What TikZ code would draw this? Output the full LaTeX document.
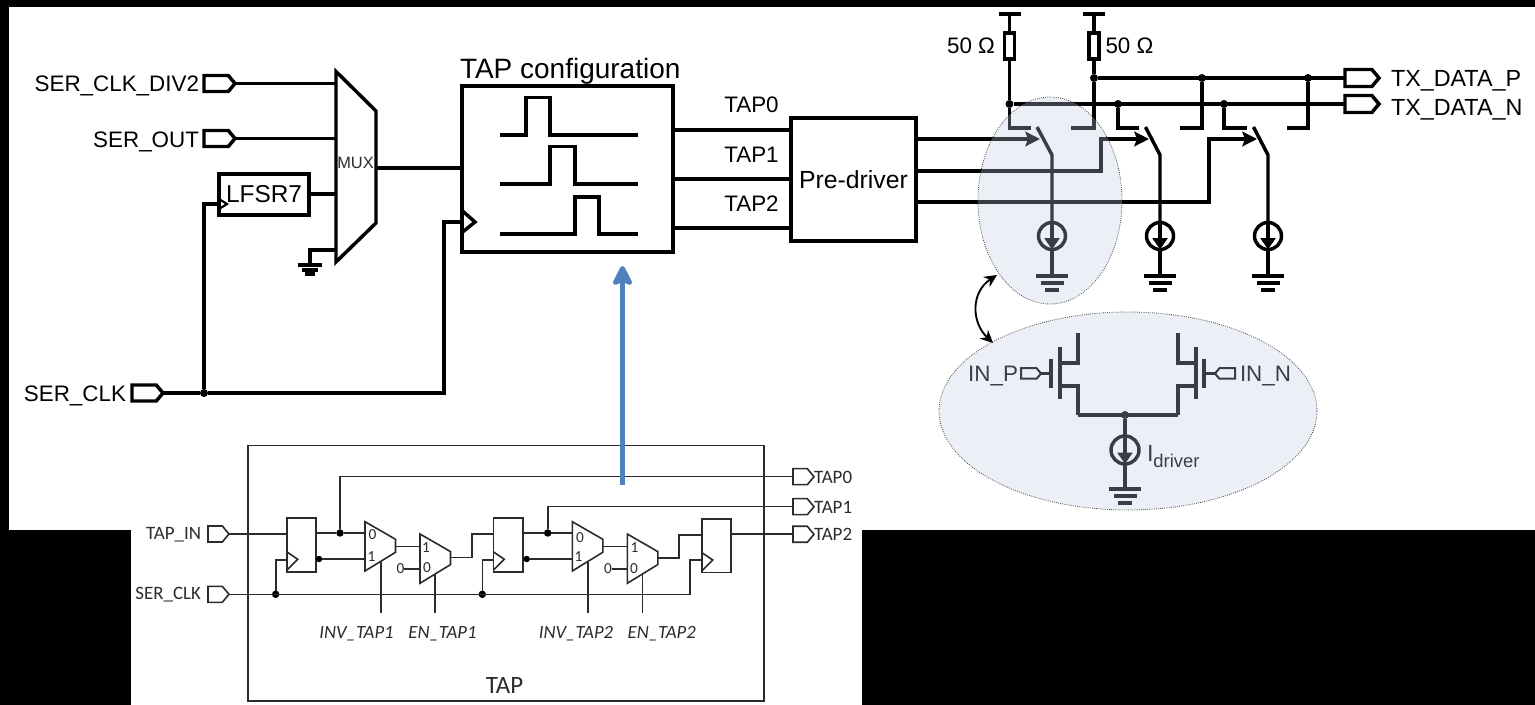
\documentclass[tikz,border=0pt]{standalone}
\usepackage{fontspec}
\setmainfont{Liberation Sans}
\newfontfamily\calfont{Carlito}
\usetikzlibrary{shapes.symbols,shapes.geometric,arrows.meta,calc}
\newcommand\px{0.75pt}
\definecolor{inkgray}{HTML}{2B2B2B}
\definecolor{veil}{rgb}{0.765,0.804,0.89}
\definecolor{bluearrow}{HTML}{4F81BD}
\tikzset{
  wire/.style={line width=2.6pt,line join=miter,color=black},
  thinwire/.style={line width=1.2pt,color=inkgray},
  mbox/.style={draw,wire,fill=white,rectangle,inner sep=0pt,outer sep=0pt,anchor=north west},
  sbox/.style={draw,thinwire,rectangle,inner sep=0pt,outer sep=0pt,anchor=north west},
  lab/.style={inner sep=0pt,outer sep=0pt,text=black,font=\fontsize{16.8pt}{18pt}\selectfont},
  txlab/.style={inner sep=0pt,outer sep=0pt,text=black,font=\fontsize{17.5pt}{19pt}\selectfont},
  slab/.style={inner sep=0pt,outer sep=0pt,text=inkgray,font=\calfont\fontsize{14.2pt}{16pt}\selectfont},
  ilab/.style={slab,font=\calfont\itshape\fontsize{14pt}{16pt}\selectfont},
  muxlab/.style={inner sep=0pt,outer sep=0pt,text=inkgray,font=\calfont\fontsize{11.5pt}{13pt}\selectfont},
  bigport/.style={draw,wire,signal,signal to=east,signal pointer angle=100,minimum width=31*\px,minimum height=16*\px,inner sep=0pt,outer sep=0pt},
  smallport/.style={draw,thinwire,signal,signal to=east,signal pointer angle=100,minimum width=21*\px,minimum height=16*\px,inner sep=0pt,outer sep=0pt},
  dot/.style={circle,fill=black,inner sep=0pt,outer sep=0pt,minimum size=8*\px},
  isrc/.style={draw,wire,circle,inner sep=0pt,outer sep=0pt,minimum size=27*\px},
  veiled/.style={ellipse,draw=black!75,densely dotted,line width=0.6pt,fill=veil,fill opacity=0.3,draw opacity=1,inner sep=0pt,outer sep=0pt},
  gndpic/.pic={
    \draw[wire] (-16,0) -- (16,0);
    \draw[wire] (-11.5,7) -- (11.5,7);
    \draw[wire] (-7,14) -- (7,14);
  },
  smallgnd/.pic={
    \draw[wire] (-12,0) -- (12,0);
    \draw[wire] (-8,5) -- (8,5);
    \draw[wire] (-5,9) -- (5,9);
  },
}
\newcommand\drvleg[7]{% name, n junction, p junction, left contact x, right contact x, arm top x, arm bottom x
  \coordinate (#1cl) at (#4,128);
  \coordinate (#1cr) at (#5,128);
  \draw[wire] (#2) |- (#1cl);
  \draw[wire] (#3) |- (#1cr);
  \coordinate (#1a) at (#6,127);
  \coordinate (#1b) at (#7,155);
  \node[isrc] (#1s) at (#7,236) {};
  \coordinate (#1g) at (#7,276);
  \draw[wire] (#1a) -- (#1b) -- (#1s.north);
  \draw[wire,-{Triangle[length=8.5pt,width=11pt]}] (#1s.north) -- (#1s.south);
  \draw[wire] (#1s.south) -- (#1g);
  \pic at (#1g) {gndpic};
}
% flip-flop: name, left x, top y
\newcommand\flop[3]{%
  \node[sbox,minimum width=29.5*\px,minimum height=53.5*\px] (#1) at (#2,#3) {};
  \coordinate (#1d) at (#2,#3+15.5);
  \coordinate (#1ck) at (#2,#3+41.5);
  \draw[thinwire] (#2,#3+33.5) -- (#2+11,#3+41) -- (#2,#3+52);
}
% mux: name, left x, top y
\newcommand\smux[3]{%
  \coordinate (#1i) at (#2,#3);
  \coordinate (#1o) at (#2+30.5,#3+25);
  \draw[thinwire] (#2,#3) -- (#2+30.5,#3+17.6) -- (#2+30.5,#3+30.6) -- (#2,#3+49.3) -- cycle;
}
\begin{document}
\begin{tikzpicture}[x=0.75pt,y=-0.75pt]
\useasboundingbox (0,0) rectangle (1535,705);
% backgrounds
\fill[black] (0,0) rectangle (1535,705);
\fill[white] (9,7.5) rectangle (1535,530);
\fill[white] (131,530) rectangle (862,705);

% ---------- top-left inputs
\node[bigport,anchor=west] (pdiv) at (204,83.5) {};
\node[bigport,anchor=west] (pout) at (204,138.5) {};
\node[bigport,anchor=west] (pclk) at (132,393) {};
\node[lab,anchor=east] (tdiv) at (199,86) {SER\_CLK\_DIV2};
\node[lab,anchor=east] (tout) at (199,142) {SER\_OUT};
\node[lab,anchor=east] (tclk) at (126,395.5) {SER\_CLK};

% mux
\coordinate (ma) at (336,71.5);
\coordinate (mb) at (376,111);
\coordinate (mc) at (376,223);
\coordinate (md) at (336,262);
\draw[wire] (ma) -- (mb) -- (mc) -- (md) -- cycle;
\node[inner sep=0pt,text=inkgray,font=\fontsize{12.3pt}{14pt}\selectfont] (mtxt) at (355.5,163) {MUX};
\coordinate (mi1) at (336,83.5);
\coordinate (mi2) at (336,138.5);
\coordinate (mi3) at (336,194);
\coordinate (mi4) at (336,250);
\coordinate (mo) at (376,168);
\draw[wire] (pdiv.east) -- (mi1);
\draw[wire] (pout.east) -- (mi2);

% LFSR7
\node[mbox,minimum width=90*\px,minimum height=41*\px,font=\fontsize{18.3pt}{20pt}\selectfont] (lfsr) at (219,174) {LFSR7};
\draw[wire] (lfsr.east |- mi3) -- (mi3);
\coordinate (lclk) at (219,204);
\draw[line width=1.6pt] ($(lclk)+(0,-5)$) -- ($(lclk)+(8,0)$) -- ($(lclk)+(0,5)$);
% mux ground
\coordinate (mg) at (310,265);
\draw[wire] (mi4) -| (mg);
\pic at (mg) {smallgnd};

% TAP configuration box
\node[mbox,minimum width=211*\px,minimum height=166*\px] (cfg) at (462,86) {};
\node[lab,anchor=west,font=\fontsize{21pt}{23pt}\selectfont] (cfgt) at (460,71) {TAP configuration};
\draw[wire] (mo) -- (mo -| cfg.west);
\coordinate (cclk) at (462,222);
\draw[wire] (462,210.5) -- (475,222) -- (462,232.5);
% clock tree
\node[dot] (jclk) at (204,393) {};
\draw[wire] (pclk.east) -- (jclk);
\draw[wire] (jclk) |- (lclk);
\coordinate (cbend) at (444,393);
\draw[wire] (jclk) -- (cbend) |- (cclk);
% pulses
\draw[wire] (500,135) -- (526,135) -- (526,97.5) -- (550,97.5) -- (550,135) -- (638,135);
\draw[wire] (500,184) -- (550,184) -- (550,146.5) -- (575,146.5) -- (575,184) -- (638,184);
\draw[wire] (500,234) -- (575,234) -- (575,197) -- (599,197) -- (599,234) -- (638,234);

% pre-driver
\node[mbox,minimum width=125*\px,minimum height=123*\px,font=\fontsize{18.6pt}{20pt}\selectfont] (pd) at (791,118) {Pre-driver};
\coordinate (t0) at (673,130);
\coordinate (t1) at (673,179);
\coordinate (t2) at (673,228);
\draw[wire] (t0) -- (t0 -| pd.west);
\draw[wire] (t1) -- (t1 -| pd.west);
\draw[wire] (t2) -- (t2 -| pd.west);
\node[lab] (lt0) at (751.5,105) {TAP0};
\node[lab] (lt1) at (751.5,155) {TAP1};
\node[lab] (lt2) at (751.5,204) {TAP2};

% ---------- driver
\coordinate (vl) at (1009.5,14);
\coordinate (vr) at (1094,14);
\draw[wire] ($(vl)+(-11,0)$) -- ($(vl)+(11,0)$);
\draw[wire] ($(vr)+(-11,0)$) -- ($(vr)+(11,0)$);
\node[mbox,anchor=center,minimum width=10*\px,minimum height=26*\px] (rl) at (1009.5,46) {};
\node[mbox,anchor=center,minimum width=10*\px,minimum height=26*\px] (rr) at (1094,46) {};
\node[dot] (jn0) at (1009.5,104) {};
\node[dot] (jp0) at (1094,78) {};
\node[dot] (jp1) at (1202,78) {};
\node[dot] (jp2) at (1308,78) {};
\node[dot] (jn1) at (1118,104) {};
\node[dot] (jn2) at (1224,104) {};
\node[bigport,anchor=west,minimum width=34*\px,minimum height=17*\px] (ptxp) at (1345,78) {};
\node[bigport,anchor=west,minimum width=34*\px,minimum height=17*\px] (ptxn) at (1345,104) {};
\node[txlab,anchor=west] (ttxp) at (1391,81) {TX\_DATA\_P};
\node[txlab,anchor=west] (ttxn) at (1391,110) {TX\_DATA\_N};
\draw[wire] (vl) -- (rl.north);
\draw[wire] (vr) -- (rr.north);
\draw[wire] (rl.south) -- (jn0);
\draw[wire] (rr.south) -- (jp0);
\draw[wire] (jp0) -- (ptxp.west);
\draw[wire] (jn0) -- (ptxn.west);
\node[lab,anchor=east] (r50a) at (995,46) {50 Ω};
\node[lab,anchor=west] (r50b) at (1105.5,46) {50 Ω};

\drvleg{a}{jn0}{jp0}{1031}{1071}{1037}{1052}
\drvleg{b}{jn1}{jp1}{1138.5}{1180}{1145.5}{1160}
\drvleg{c}{jn2}{jp2}{1246.5}{1287}{1253.5}{1268}
\coordinate (o1) at (916,139);
\coordinate (o2) at (916,171);
\coordinate (o3) at (916,202);
\coordinate (s1) at (1040,139);
\coordinate (s2) at (1149,139);
\coordinate (s3) at (1257,139);
\coordinate (b2) at (1101,171);
\coordinate (b3) at (1209,202);
\tikzset{swarrow/.style={wire,-{Stealth[length=11pt,width=11pt,inset=2pt]}}}
\draw[swarrow] (o1) -- (s1);
\draw[swarrow] (o2) -- (b2) |- (s2);
\draw[swarrow] (o3) -- (b3) |- (s3);

% differential pair
\coordinate (ld) at (1078,333);
\coordinate (rd) at (1178,333);
\node[dot] (jt) at (1125,415) {};
\coordinate (ls) at (1078,415);
\coordinate (rs) at (1178,415);
\draw[wire] (ls) -- (rs);
\draw[wire] (ld) -- ++(0,30) -- ++(-18,0);
\draw[wire] (ls) -- ++(0,-29) -- ++(-18,0);
\draw[wire] (1060,347) -- (1060,399);
\draw[wire] (1051,359) -- (1051,388);
\draw[wire] (rd) -- ++(0,30) -- ++(18,0);
\draw[wire] (rs) -- ++(0,-29) -- ++(18,0);
\draw[wire] (1196,347) -- (1196,399);
\draw[wire] (1204,359) -- (1204,388);
\node[draw,line width=1.5pt,signal,signal to=east,signal pointer angle=100,minimum width=20*\px,minimum height=10.5*\px,inner sep=0pt,outer sep=0pt,anchor=east] (pinp) at (1041,373.5) {};
\node[draw,line width=1.5pt,signal,signal to=west,signal pointer angle=100,minimum width=20*\px,minimum height=10.5*\px,inner sep=0pt,outer sep=0pt,anchor=west] (pinn) at (1215,373.5) {};
\coordinate (gl) at (1051,373.5);
\coordinate (gr) at (1204,373.5);
\draw[wire] (pinp.east) -- (gl);
\draw[wire] (pinn.west) -- (gr);
\node[lab,anchor=east] (tinp) at (1018,376) {IN\_P};
\node[lab,anchor=west] (tinn) at (1240,376) {IN\_N};
\node[isrc,minimum size=28*\px] (ds) at (1125,450) {};
\coordinate (dg) at (1125,489);
\draw[wire] (jt) -- (ds.north);
\draw[wire,-{Triangle[length=8.5pt,width=11pt]}] (ds.north) -- (ds.south);
\draw[wire] (ds.south) -- (dg);
\pic at (dg) {gndpic};
\node[lab,anchor=base west,font=\fontsize{17.5pt}{20pt}\selectfont] (idrv) at (1147,462) {I\raisebox{-4.5pt}{\fontsize{13.8pt}{15pt}\selectfont driver}};

% veils over the driver
\node[veiled,minimum width=144*\px,minimum height=207*\px] (va) at (1050,200.5) {};
\node[veiled,minimum width=378*\px,minimum height=198*\px] (vb) at (1128,411) {};
\coordinate (ca) at (997,275);
\coordinate (cb) at (993,343);
\draw[line width=1.4pt,{Stealth[length=9.5pt,width=9pt]}-{Stealth[length=9.5pt,width=9pt]}] (ca) .. controls (971,292) and (971,322) .. (cb);

% ---------- TAP block
\node[sbox,minimum width=516.5*\px,minimum height=255*\px] (tapb) at (247.7,445.7) {};
\node[inner sep=0pt,text=inkgray,font=\calfont\fontsize{18.7pt}{21pt}\selectfont] (tapt) at (504.5,685) {TAP};
\node[smallport,anchor=west] (pin) at (208,534) {};
\node[smallport,anchor=west] (pck) at (208,594.3) {};
\node[slab,anchor=east] (tin) at (201,535) {TAP\_IN};
\node[slab,anchor=east] (tck) at (201,595) {SER\_CLK};
\node[smallport,anchor=west] (pt0) at (793,476.7) {};
\node[smallport,anchor=west] (pt1) at (793,506.7) {};
\node[smallport,anchor=west] (pt2) at (793,534.3) {};
\node[slab,anchor=west] (tt0) at (814,477.5) {TAP0};
\node[slab,anchor=west] (tt1) at (814,507) {TAP1};
\node[slab,anchor=west] (tt2) at (814,534.5) {TAP2};

\flop{fa}{286.7}{518.3}
\flop{fb}{493.3}{518.3}
\flop{fc}{701.7}{519}
\smux{ma}{365}{521.7}
\smux{mb}{420}{534}
\smux{mc}{572.3}{521.7}
\smux{md}{627.3}{534}

\node[muxlab] (la0) at (372.5,535) {0};
\node[muxlab] (la1) at (371.5,557) {1};
\node[muxlab] (lb1) at (426,548) {1};
\node[muxlab] (lb0) at (427,568) {0};
\node[muxlab] (lc0) at (580,537.5) {0};
\node[muxlab] (lc1) at (578.5,557) {1};
\node[muxlab] (ld1) at (634.5,548) {1};
\node[muxlab] (ld0) at (634,569) {0};
\node[muxlab] (zb) at (400.5,569) {0};
\node[muxlab] (zd) at (608,569) {0};
\coordinate (zbi) at (420,569);
\coordinate (zdi) at (627.3,569);
\draw[thinwire] (zb.east) -- (zbi);
\draw[thinwire] (zd.east) -- (zdi);

% data path
\draw[thinwire] (pin.east) -- (pin.east -| fa.west);
\node[dot,minimum size=7.5*\px] (ja) at (340,533) {};
\node[dot,minimum size=7.5*\px] (jb) at (547.7,533) {};
\node[dot,minimum size=6.5*\px] (qa) at (319,559) {};
\node[dot,minimum size=6.5*\px] (qb) at (526.7,559) {};
\node[dot,minimum size=7.5*\px] (cka) at (275.7,594.3) {};
\node[dot,minimum size=7.5*\px] (ckb) at (482.3,594.3) {};
\coordinate (mai0) at (365,533);
\coordinate (mai1) at (365,559);
\coordinate (mci0) at (572.3,533);
\coordinate (mci1) at (572.3,559);
\draw[thinwire] (316.2,533) -- (ja) -- (mai0);
\draw[thinwire] (qa) -- (mai1);
\draw[thinwire] (522.8,533) -- (jb) -- (mci0);
\draw[thinwire] (qb) -- (mci1);
\draw[thinwire] (ja) |- (pt0.west);
\draw[thinwire] (jb) |- (pt1.west);
\coordinate (mbi1) at (420,546.7);
\coordinate (mdi1) at (627.3,546.7);
\draw[thinwire] (395.5,546.7) -- (mbi1);
\draw[thinwire] (602.8,546.7) -- (mdi1);
\coordinate (mbo) at (450.5,557.7);
\coordinate (mdo) at (657.8,558);
\draw[thinwire] (mbo) -- (471.7,557.7) |- (fb.west |- 0,534);
\draw[thinwire] (mdo) -- (679,558) |- (fc.west |- 0,535);
\draw[thinwire] (731.2,534.3) -- (pt2.west);

% clock
\draw[thinwire] (pck.east) -- (690,594.3) |- (fc.west |- 0,560);
\draw[thinwire] (cka) |- (fa.west |- 0,560);
\draw[thinwire] (ckb) |- (fb.west |- 0,560);

% select lines
\coordinate (inv1) at (380.7,613.3);
\coordinate (en1) at (435,613.3);
\coordinate (inv2) at (587.7,613.3);
\coordinate (en2) at (642.3,613.3);
\coordinate (inv1t) at (380.7,562);
\coordinate (en1t) at (435,574);
\coordinate (inv2t) at (587.7,562);
\coordinate (en2t) at (642.3,574);
\draw[thinwire] (inv1t) -- (inv1);
\draw[thinwire] (en1t) -- (en1);
\draw[thinwire] (inv2t) -- (inv2);
\draw[thinwire] (en2t) -- (en2);
\node[ilab] (tinv1) at (356.5,634) {INV\_TAP1};
\node[ilab] (ten1) at (442.5,634) {EN\_TAP1};
\node[ilab] (tinv2) at (576,634) {INV\_TAP2};
\node[ilab] (ten2) at (661.7,634) {EN\_TAP2};

% blue arrow
\coordinate (bs) at (622.5,485);
\coordinate (be) at (622.5,266);
\draw[line width=4.3pt,color=bluearrow,-{Stealth[length=18pt,width=18pt,inset=4pt,round]}] (bs) -- (be);
\end{tikzpicture}
\end{document}
